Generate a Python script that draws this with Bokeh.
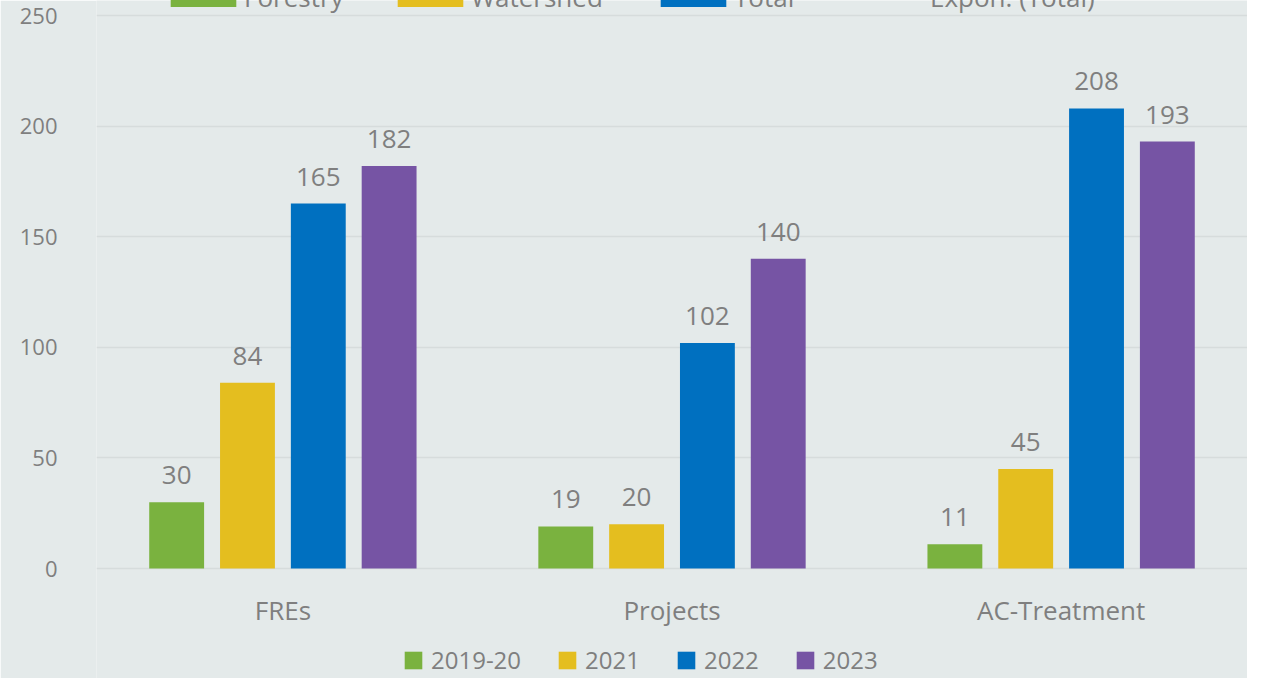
from bokeh.plotting import figure
from bokeh.models import (ColumnDataSource, FactorRange, Range1d, LabelSet, Legend,
                          LegendItem, SingleIntervalTicker)
from bokeh.core.properties import value
from bokeh.transform import dodge
from bokeh.embed import file_html
from bokeh.resources import INLINE

categories = ["FREs", "Projects", "AC-Treatment"]
series_names = ["2019-20", "2021", "2022", "2023"]
v_2019_20 = [30, 19, 11]
v_2021 = [84, 20, 45]
v_2022 = [165, 102, 208]
v_2023 = [182, 140, 193]
top_legend_labels = ["Forestry", "Watershed", "Total", "Expon. (Total)"]

series_values = [v_2019_20, v_2021, v_2022, v_2023]
colors = ["#7AB23F", "#E4BE1F", "#0070C0", "#7654A4"]
offsets = [-0.273, -0.091, 0.091, 0.273]
BG = "#E4EAEA"
GRID = "#D6DCDC"
TXT = "#7F7F7F"
FONT = "Open Sans"

# layout (pixels): canvas height, top of value axis (250), position of 0
H, TOP_PX, ZERO_PX, FRAME_L = 678, 15, 568, 96
px_per_unit = (ZERO_PX - TOP_PX) / 250.0
y_lo = -(H - ZERO_PX) / px_per_unit
y_hi = 250 + TOP_PX / px_per_unit

data = {"cat": categories}
for name, vals in zip(series_names, series_values):
    data[name] = vals
    data[name + "_t"] = [str(v) for v in vals]
src = ColumnDataSource(data)

p = figure(width=1247, height=H,
           x_range=FactorRange(*categories, range_padding=-0.014,
                               range_padding_units="percent"),
           y_range=Range1d(y_lo, y_hi), output_backend="svg",
           toolbar_location=None, min_border_left=FRAME_L, min_border_right=0,
           min_border_top=0, min_border_bottom=0)
p.background_fill_color = BG
p.border_fill_color = BG
p.outline_line_color = None

renderers = []
for name, c, off in zip(series_names, colors, offsets):
    r = p.vbar(x=dodge("cat", off, range=p.x_range), top=name, width=0.141,
               source=src, fill_color=c, line_color=None)
    renderers.append(r)
    p.add_layout(LabelSet(x=dodge("cat", off, range=p.x_range), y=name,
                          text=name + "_t", source=src, text_align="center",
                          text_baseline="alphabetic", y_offset=18,
                          text_font_size="26px", text_color=TXT,
                          text_font=value(FONT)))

# trend-line entry of the top legend (no visible line in the picture)
expon = p.line(x=[], y=[], line_color="#0070C0", line_dash="2 2", line_width=2)

# category labels under the bars
p.add_layout(LabelSet(x="cat", y=0, text="cat", source=src, text_align="center",
                      text_baseline="alphabetic", y_offset=-51,
                      text_font_size="26px", text_color=TXT,
                      text_font=value(FONT)))

p.xaxis.visible = False
p.xgrid.grid_line_color = None
p.ygrid.grid_line_color = GRID
p.ygrid.grid_line_width = 1.5

yax = p.yaxis[0]
yax.ticker = SingleIntervalTicker(interval=50)
yax.axis_line_color = None
yax.major_tick_line_color = None
yax.minor_tick_line_color = None
yax.major_tick_in = 0
yax.major_tick_out = 0
yax.minor_tick_out = 0
yax.major_label_text_color = TXT
yax.major_label_text_font = FONT
yax.major_label_text_font_size = "22px"
yax.major_label_standoff = 39


def make_legend(items, loc, fs, gw, gh, standoff, spacing=0):
    return Legend(items=items, orientation="horizontal", location=loc,
                  label_text_font_size=fs, label_text_color=TXT,
                  label_text_font=FONT, glyph_width=gw, glyph_height=gh,
                  label_standoff=standoff, spacing=spacing, padding=0, margin=0,
                  background_fill_alpha=0, border_line_color=None)


# bottom legend (years)
p.add_layout(make_legend([LegendItem(label=n, renderers=[r])
                          for n, r in zip(series_names, renderers)],
                         (306, 2), "24px", 22, 22, 7, 35))

# top legend, only its lower edge falls inside the picture
for txt, r, lx in zip(top_legend_labels, renderers[:3] + [expon],
                      [66, 293, 556, 752]):
    p.add_layout(make_legend([LegendItem(label=txt, renderers=[r])],
                             (lx, 663), "26px", 82, 24, 0))

open("out.html", "w").write(file_html(p, INLINE))
